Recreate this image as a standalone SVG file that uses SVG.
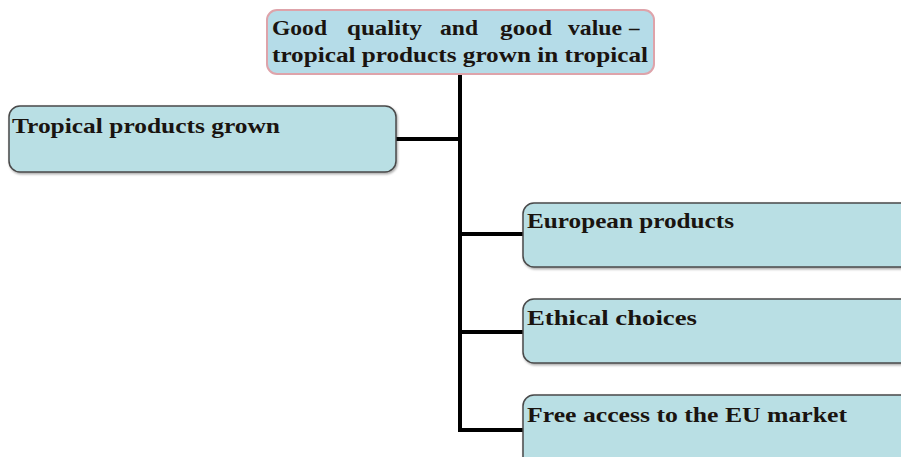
<svg xmlns="http://www.w3.org/2000/svg" width="901" height="457" viewBox="0 0 901 457">
  <style>
    .box { fill: #b9dfe4; stroke: #4a4a4a; stroke-width: 1.5; }
    .root { fill: #b5dce8; stroke: #dea3aa; stroke-width: 2; }
    .lbl { font-family: "Liberation Serif", "Times New Roman", serif; font-weight: bold; font-size: 21px; fill: #1a1410; }
    .wire { fill: none; stroke: #000; stroke-width: 4; }
  </style>
  <defs>
    <filter id="sh" x="-5%" y="-10%" width="110%" height="130%">
      <feDropShadow dx="1" dy="1.5" stdDeviation="1" flood-color="#000" flood-opacity="0.35"/>
    </filter>
  </defs>
  <rect width="901" height="457" fill="#fff"/>

  <g id="connectors">
    <path class="wire" d="M460 75 V430 H524"/>
    <path class="wire" d="M396 139 H460"/>
    <path class="wire" d="M460 234 H524"/>
    <path class="wire" d="M460 332 H524"/>
  </g>

  <g id="root">
    <rect class="root" x="267" y="10" width="387" height="64" rx="10"/>
    <!-- justified first line: each word placed on its own -->
    <text class="lbl" x="272" y="35" textLength="55" lengthAdjust="spacingAndGlyphs">Good</text>
    <text class="lbl" x="347" y="35" textLength="75" lengthAdjust="spacingAndGlyphs">quality</text>
    <text class="lbl" x="440" y="35" textLength="38" lengthAdjust="spacingAndGlyphs">and</text>
    <text class="lbl" x="500" y="35" textLength="52" lengthAdjust="spacingAndGlyphs">good</text>
    <text class="lbl" x="568" y="35" textLength="54" lengthAdjust="spacingAndGlyphs">value</text>
    <text class="lbl" x="629" y="35">–</text>
    <text class="lbl" x="272" y="62" textLength="376" lengthAdjust="spacingAndGlyphs">tropical products grown in tropical</text>
  </g>

  <g id="tropical">
    <rect class="box" filter="url(#sh)" x="9" y="106" width="387" height="66" rx="11"/>
    <text class="lbl" x="12" y="133" textLength="268" lengthAdjust="spacingAndGlyphs">Tropical products grown</text>
  </g>

  <g id="european">
    <rect class="box" filter="url(#sh)" x="523" y="203" width="400" height="64" rx="11"/>
    <text class="lbl" x="527" y="228" textLength="207" lengthAdjust="spacingAndGlyphs">European products</text>
  </g>

  <g id="ethical">
    <rect class="box" filter="url(#sh)" x="523" y="299" width="400" height="64" rx="11"/>
    <text class="lbl" x="527" y="325" textLength="170" lengthAdjust="spacingAndGlyphs">Ethical choices</text>
  </g>

  <g id="free-access">
    <rect class="box" filter="url(#sh)" x="523" y="395" width="400" height="80" rx="11"/>
    <text class="lbl" x="527" y="422" textLength="320" lengthAdjust="spacingAndGlyphs">Free access to the EU market</text>
  </g>
</svg>
